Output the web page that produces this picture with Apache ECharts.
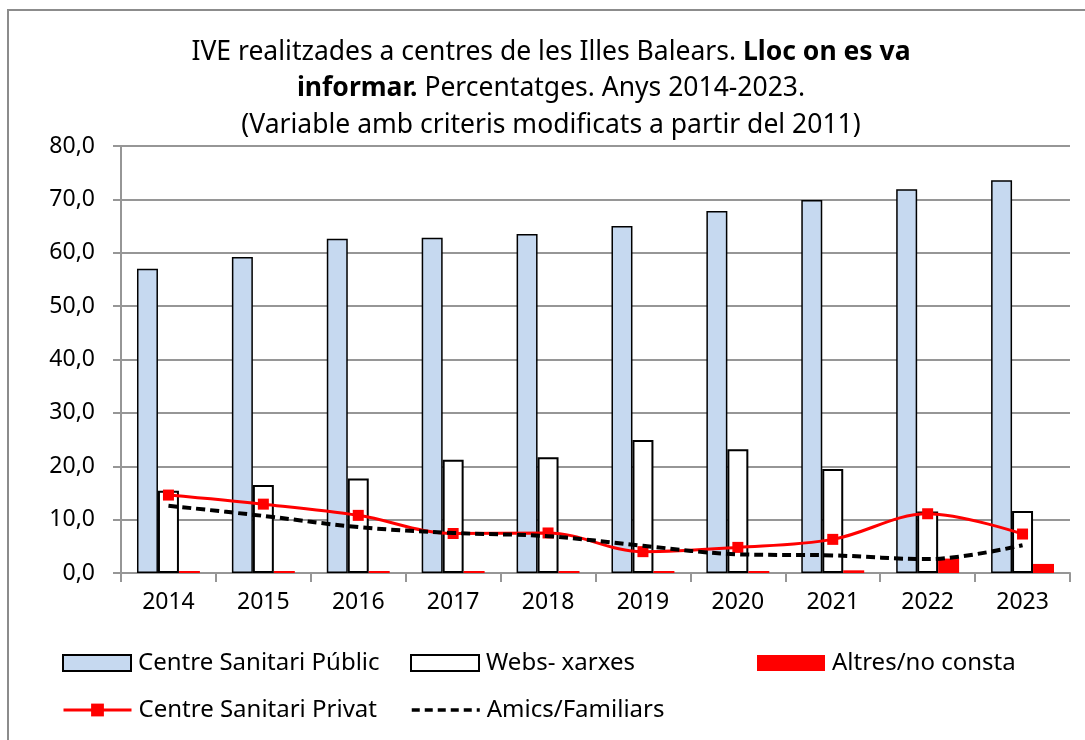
<!DOCTYPE html>
<html>
<head>
<meta charset="utf-8">
<script src="https://cdn.jsdelivr.net/npm/echarts@6/dist/echarts.min.js"></script>
<style>
html,body{margin:0;padding:0;background:#fff;}
#chart{width:1085px;height:740px;}
</style>
</head>
<body>
<div id="chart"></div>
<script>
const years = ['2014','2015','2016','2017','2018','2019','2020','2021','2022','2023'];
const publicCentre = [57.0, 59.2, 62.6, 62.8, 63.5, 65.0, 67.8, 69.9, 71.9, 73.6];
const webs = [15.4, 16.5, 17.7, 21.2, 21.7, 24.9, 23.2, 19.5, 11.5, 11.6];
const altres = [0.3, 0.3, 0.2, 0.3, 0.2, 0.3, 0.2, 0.5, 2.7, 1.7];
const privat = [14.6, 12.9, 10.8, 7.4, 7.5, 4.0, 4.8, 6.3, 11.1, 7.3];
const amics = [12.6, 10.7, 8.6, 7.5, 6.9, 5.1, 3.5, 3.3, 2.6, 5.2];
const yTicks = [0, 10, 20, 30, 40, 50, 60, 70, 80];

const FONT = '"Noto Sans", "Open Sans", sans-serif';
const FS = 23;
const LFS = 24;
const TFS = 26.5;
const chart = echarts.init(document.getElementById('chart'));

function legend(item, left, top, icon) {
  return {
    data: [item], left: left, top: top, itemWidth: 68, itemHeight: 16, padding: 0,
    icon: icon, selectedMode: false, itemGap: 0,
    textStyle: { fontFamily: FONT, fontSize: LFS, color: '#000', padding: [0,0,0,2] }
  };
}

chart.setOption({
  animation: false,
  backgroundColor: '#fff',
  graphic: [{
    type: 'rect', z: -10, silent: true,
    shape: { x: 8, y: 10, width: 1200, height: 900 },
    style: { fill: 'none', stroke: '#8c8c8c', lineWidth: 2 }
  }],
  title: {
    text: 'IVE realitzades a centres de les Illes Balears. {b|Lloc on es va}\n{b|informar.} Percentatges. Anys 2014-2023.\n(Variable amb criteris modificats a partir del 2011)',
    left: 551, top: 34, textAlign: 'center', padding: 0,
    textStyle: {
      fontFamily: FONT, fontSize: TFS, fontWeight: 'normal', color: '#000', lineHeight: 36.5,
      rich: { b: { fontFamily: FONT, fontSize: TFS, fontWeight: 'bold', color: '#000', lineHeight: 36.5 } }
    }
  },
  legend: [
    legend('Centre Sanitari Públic', 62, 651, 'rect'),
    legend('Webs- xarxes', 410, 651, 'rect'),
    legend('Altres/no consta', 757, 651, 'rect'),
    legend({ name: 'Centre Sanitari Privat', lineStyle: { width: 3 } }, 62, 698),
    legend({ name: 'Amics/Familiars', itemStyle: { opacity: 0 }, lineStyle: { width: 3.5, type: [8, 5] } }, 410, 698)
  ],
  grid: { left: 121, right: 15, top: 146, bottom: 167, containLabel: false },
  xAxis: {
    type: 'category', data: years,
    axisLine: { lineStyle: { color: '#969696', width: 2 } },
    axisTick: { show: true, length: 9, lineStyle: { color: '#969696', width: 2 } },
    axisLabel: { fontFamily: FONT, fontSize: FS, color: '#000', margin: 18 }
  },
  yAxis: {
    type: 'value', min: yTicks[0], max: yTicks[yTicks.length - 1], interval: 10,
    axisLine: { show: true, lineStyle: { color: '#969696', width: 2 } },
    axisTick: { show: true, length: 8, lineStyle: { color: '#969696', width: 2 } },
    splitLine: { lineStyle: { color: '#969696', width: 2 } },
    axisLabel: { fontFamily: FONT, fontSize: FS, color: '#000', margin: 26,
      formatter: v => v.toFixed(1).replace('.', ',') }
  },
  series: [
    { name: 'Centre Sanitari Públic', type: 'bar', data: publicCentre, barGap: '0%', barCategoryGap: '33.7%',
      itemStyle: { color: '#C6D9F0', borderColor: '#000', borderWidth: 1.5 } },
    { name: 'Webs- xarxes', type: 'bar', data: webs,
      itemStyle: { color: '#fff', borderColor: '#000', borderWidth: 2 } },
    { name: 'Altres/no consta', type: 'bar', data: altres, barMinHeight: 2,
      itemStyle: { color: '#FF0000' } },
    { name: 'Centre Sanitari Privat', type: 'line', data: privat, smooth: 0.35,
      symbol: 'rect', symbolSize: 11, z: 5,
      lineStyle: { color: '#FF0000', width: 3 }, itemStyle: { color: '#FF0000' } },
    { name: 'Amics/Familiars', type: 'line', data: amics, smooth: 0.35, symbol: 'none', z: 6,
      lineStyle: { color: '#000', width: 4, type: [9, 5] }, itemStyle: { color: '#000' } }
  ]
});
</script>
</body>
</html>
